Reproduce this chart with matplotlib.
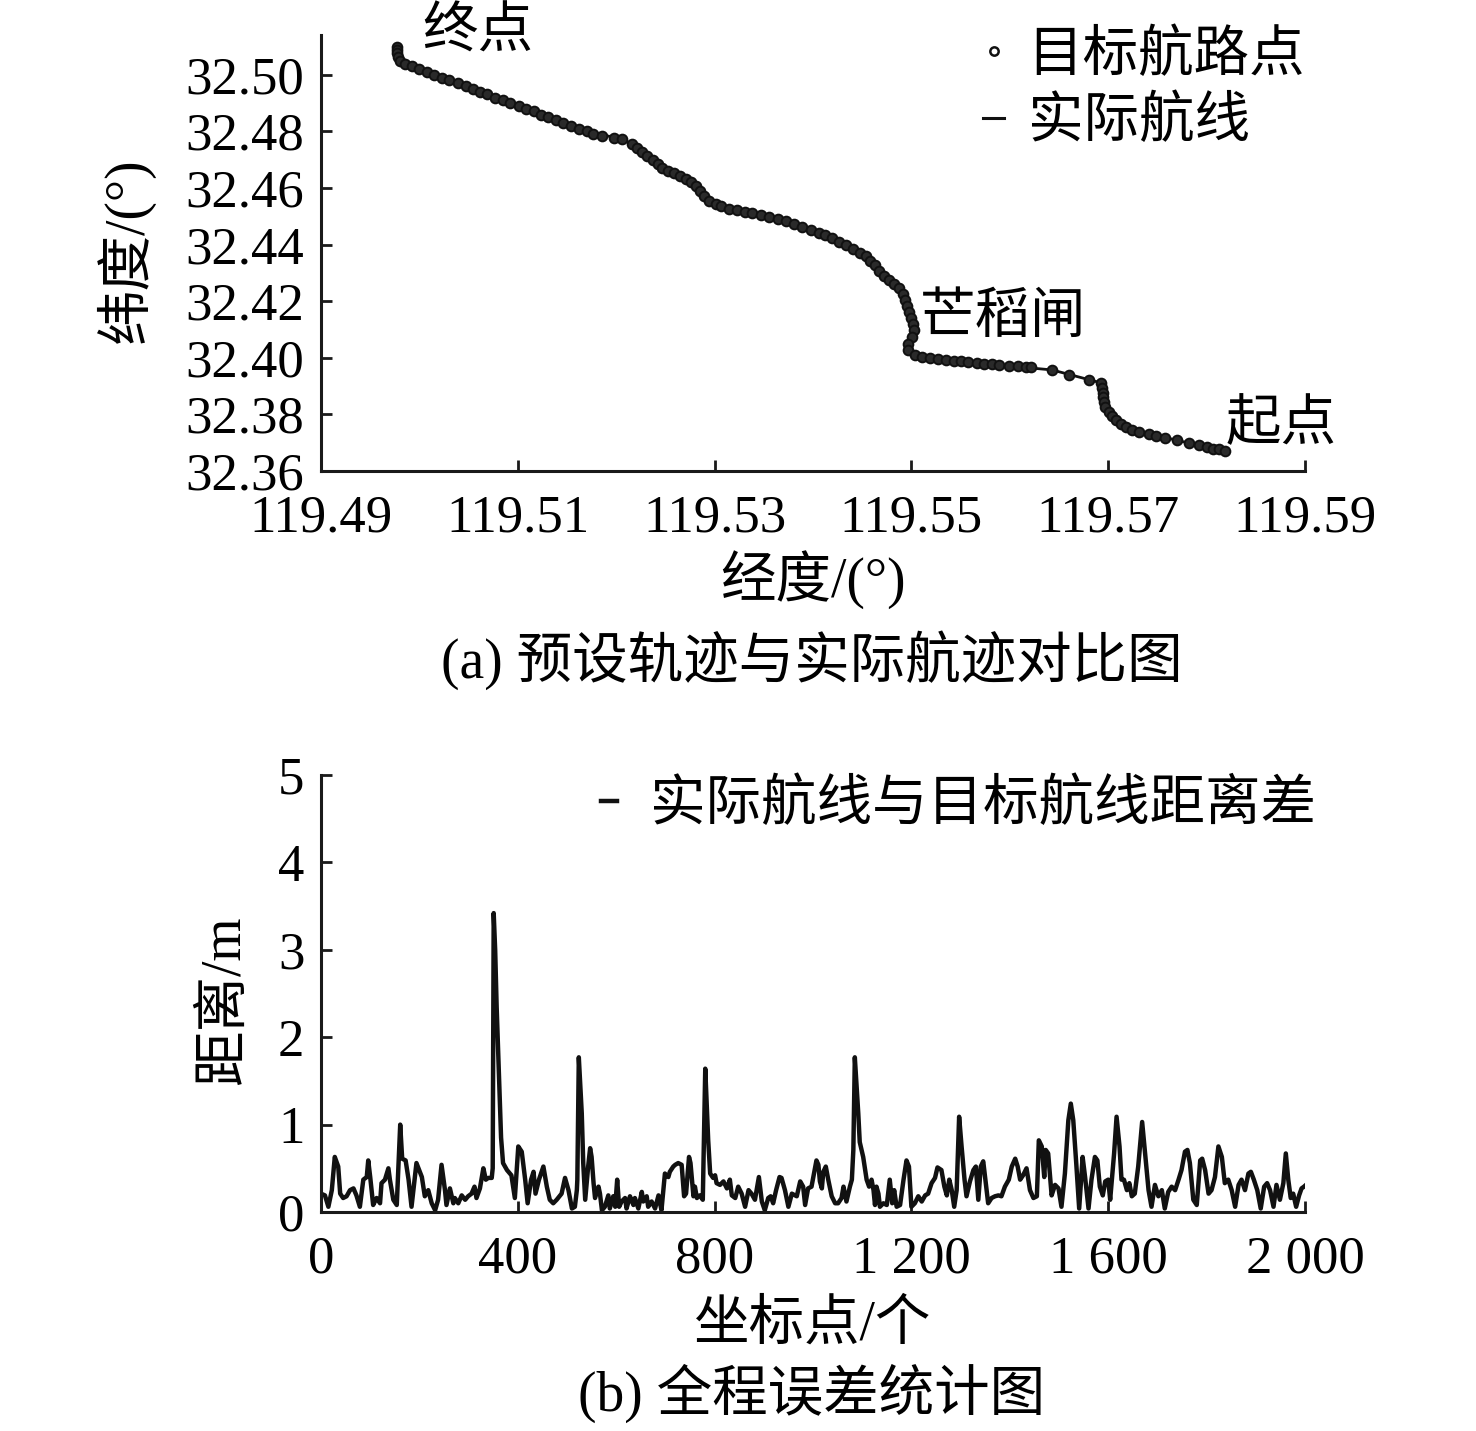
import matplotlib
matplotlib.use("Agg")
import matplotlib.pyplot as plt
from matplotlib.lines import Line2D

plt.rcParams['font.family'] = ['Liberation Serif', 'Noto Sans CJK SC']
plt.rcParams['axes.unicode_minus'] = False

FS = 38      # numbers
FS_CN = 40   # chinese text

# target waypoints (lon, lat)
wp_lon = [119.4977, 119.4977, 119.4977, 119.4978, 119.4980, 119.4985,
          119.4992, 119.5000, 119.5008, 119.5015, 119.5023, 119.5030, 119.5039, 119.5047,
          119.5054, 119.5062, 119.5069, 119.5077, 119.5085, 119.5092, 119.5101, 119.5108,
          119.5116, 119.5124, 119.5131, 119.5139, 119.5146, 119.5154, 119.5162, 119.5170,
          119.5176, 119.5186, 119.5198, 119.5206, 119.5216, 119.5221, 119.5226, 119.5231,
          119.5237, 119.5242, 119.5247, 119.5253, 119.5259, 119.5265, 119.5271, 119.5276,
          119.5281, 119.5285, 119.5289, 119.5294, 119.5301, 119.5307, 119.5315, 119.5323,
          119.5331, 119.5338, 119.5347, 119.5355, 119.5364, 119.5373, 119.5381, 119.5389,
          119.5398, 119.5406, 119.5412, 119.5419, 119.5426, 119.5434, 119.5441, 119.5448,
          119.5454, 119.5458, 119.5463, 119.5467, 119.5472, 119.5477, 119.5482, 119.5487,
          119.5491, 119.5494, 119.5496, 119.5498, 119.5500, 119.5502, 119.5503, 119.5501,
          119.5497, 119.5497, 119.5504, 119.5511, 119.5519, 119.5527, 119.5535, 119.5543,
          119.5550, 119.5558, 119.5567, 119.5574, 119.5582, 119.5589, 119.5599, 119.5608,
          119.5616, 119.5622, 119.5643, 119.5660, 119.5680, 119.5693, 119.5694, 119.5695,
          119.5695, 119.5696, 119.5697, 119.5701, 119.5704, 119.5708, 119.5713, 119.5718,
          119.5724, 119.5731, 119.5741, 119.5749, 119.5758, 119.5770, 119.5782, 119.5792,
          119.5800, 119.5807, 119.5813, 119.5819]
wp_lat = [32.5099, 32.5088, 32.5078, 32.5063, 32.5049, 32.5039,
          32.5030, 32.5019, 32.5009, 32.4999, 32.4989, 32.4980, 32.4969, 32.4959,
          32.4950, 32.4939, 32.4930, 32.4919, 32.4909, 32.4900, 32.4889, 32.4880,
          32.4870, 32.4859, 32.4850, 32.4839, 32.4830, 32.4820, 32.4809, 32.4800,
          32.4789, 32.4782, 32.4775, 32.4772, 32.4754, 32.4740, 32.4726, 32.4712,
          32.4698, 32.4684, 32.4670, 32.4659, 32.4652, 32.4642, 32.4631, 32.4621,
          32.4607, 32.4589, 32.4572, 32.4554, 32.4543, 32.4536, 32.4526, 32.4522,
          32.4515, 32.4512, 32.4505, 32.4498, 32.4491, 32.4484, 32.4473, 32.4463,
          32.4452, 32.4442, 32.4435, 32.4424, 32.4410, 32.4399, 32.4385, 32.4371,
          32.4361, 32.4343, 32.4326, 32.4308, 32.4290, 32.4276, 32.4259, 32.4245,
          32.4224, 32.4203, 32.4182, 32.4160, 32.4139, 32.4118, 32.4097, 32.4073,
          32.4048, 32.4027, 32.4009, 32.4002, 32.3999, 32.3995, 32.3992, 32.3988,
          32.3988, 32.3985, 32.3981, 32.3978, 32.3978, 32.3974, 32.3971, 32.3971,
          32.3967, 32.3967, 32.3957, 32.3939, 32.3922, 32.3911, 32.3893, 32.3876,
          32.3862, 32.3844, 32.3827, 32.3809, 32.3795, 32.3781, 32.3767, 32.3756,
          32.3746, 32.3739, 32.3732, 32.3725, 32.3718, 32.3711, 32.3700, 32.3693,
          32.3686, 32.3679, 32.3676, 32.3669]

# actual route
route_lon = [119.4977, 119.4978, 119.4985, 119.5170, 119.5206, 119.5216, 119.5247, 119.5271,
             119.5281, 119.5294, 119.5315, 119.5338, 119.5373, 119.5406, 119.5454, 119.5467,
             119.5487, 119.5494, 119.5503, 119.5497, 119.5511, 119.5589, 119.5643, 119.5693,
             119.5697, 119.5708, 119.5724, 119.5758, 119.5819]
route_lat = [32.5099, 32.5053, 32.5039, 32.4800, 32.4772, 32.4754, 32.4670, 32.4631,
             32.4607, 32.4554, 32.4526, 32.4512, 32.4484, 32.4442, 32.4361, 32.4308,
             32.4245, 32.4203, 32.4097, 32.4027, 32.4002, 32.3974, 32.3957, 32.3911,
             32.3827, 32.3781, 32.3746, 32.3718, 32.3669]

place_names = ['终点', '芒稻闸', '起点']
place_lon = [119.5059, 119.5509, 119.5819]
place_lat = [32.5145, 32.4136, 32.3760]

# distance error along the whole trip
err_idx = [0, 8, 15, 22, 28, 35, 39, 45, 52, 59, 66, 72, 79, 86, 93, 96, 100, 106, 113, 120,
           123, 130, 137, 140, 147, 154, 161, 165, 172, 178, 184, 194, 205, 211, 218, 225,
           232, 238, 245, 252, 255, 262, 269, 272, 279, 286, 293, 299, 306, 312, 316, 323,
           330, 335, 340, 347, 349, 351, 354, 357, 362, 366, 370, 378, 387, 394, 401, 408,
           415, 420, 427, 432, 436, 443, 452, 459, 465, 472, 479, 489, 496, 503, 510, 516,
           520, 521, 524, 530, 533, 537, 543, 547, 550, 554, 557, 564, 567, 571, 577, 584,
           587, 594, 598, 602, 606, 611, 618, 621, 628, 635, 638, 645, 652, 655, 662, 665,
           672, 679, 686, 692, 699, 706, 709, 716, 720, 726, 733, 738, 742, 748, 751, 757,
           760, 764, 770, 776, 781, 787, 791, 797, 801, 804, 811, 818, 825, 831, 835, 842,
           848, 855, 862, 869, 875, 882, 890, 896, 902, 909, 914, 919, 925, 932, 936, 943,
           950, 957, 967, 974, 980, 984, 990, 997, 1004, 1007, 1011, 1014, 1018, 1021, 1026,
           1031, 1038, 1045, 1051, 1058, 1062, 1068, 1075, 1079, 1082, 1085, 1092, 1095,
           1102, 1109, 1114, 1119, 1123, 1126, 1129, 1133, 1136, 1143, 1150, 1156, 1161,
           1165, 1170, 1177, 1184, 1190, 1195, 1200, 1207, 1214, 1221, 1228, 1234, 1241,
           1248, 1253, 1261, 1267, 1272, 1277, 1282, 1287, 1292, 1297, 1302, 1308, 1312,
           1319, 1326, 1331, 1336, 1341, 1346, 1352, 1356, 1363, 1370, 1377, 1383, 1390,
           1398, 1404, 1411, 1416, 1421, 1427, 1434, 1441, 1448, 1455, 1459, 1465, 1470,
           1473, 1478, 1485, 1492, 1499, 1505, 1512, 1519, 1524, 1529, 1535, 1541, 1548,
           1553, 1560, 1566, 1573, 1578, 1583, 1589, 1594, 1600, 1604, 1612, 1617, 1623,
           1627, 1632, 1638, 1643, 1648, 1654, 1661, 1669, 1675, 1682, 1688, 1695, 1702,
           1709, 1715, 1722, 1729, 1736, 1743, 1749, 1756, 1761, 1766, 1773, 1780, 1787,
           1791, 1797, 1804, 1810, 1817, 1824, 1831, 1837, 1844, 1851, 1858, 1865, 1871,
           1878, 1885, 1890, 1896, 1903, 1910, 1917, 1923, 1929, 1936, 1942, 1949, 1956,
           1961, 1966, 1971, 1976, 1982, 1988, 1993, 1998, 2000]
err_val = [0.21, 0.19, 0.06, 0.25, 0.63, 0.52, 0.21, 0.16, 0.18, 0.25, 0.27, 0.19, 0.06, 0.37,
           0.40, 0.59, 0.40, 0.08, 0.16, 0.10, 0.33, 0.37, 0.50, 0.37, 0.14, 0.08, 1.00, 0.61,
           0.59, 0.37, 0.06, 0.56, 0.40, 0.18, 0.25, 0.10, 0.02, 0.14, 0.54, 0.25, 0.08, 0.27,
           0.10, 0.16, 0.10, 0.19, 0.14, 0.18, 0.21, 0.29, 0.16, 0.27, 0.50, 0.37, 0.39, 0.39,
           0.50, 3.42, 3.00, 2.35, 1.50, 0.85, 0.56, 0.48, 0.42, 0.16, 0.75, 0.69, 0.37, 0.10,
           0.37, 0.46, 0.21, 0.37, 0.52, 0.29, 0.14, 0.10, 0.14, 0.21, 0.39, 0.25, 0.04, 0.06,
           0.25, 0.37, 1.77, 1.13, 0.56, 0.14, 0.52, 0.73, 0.63, 0.33, 0.16, 0.29, 0.21, 0.02,
           0.06, 0.19, 0.04, 0.18, 0.06, 0.37, 0.06, 0.12, 0.16, 0.04, 0.18, 0.08, 0.16, 0.04,
           0.23, 0.12, 0.18, 0.06, 0.12, 0.04, 0.19, 0.02, 0.44, 0.40, 0.46, 0.52, 0.54, 0.56,
           0.54, 0.18, 0.21, 0.63, 0.56, 0.18, 0.29, 0.16, 0.19, 0.14, 1.64, 0.82, 0.44, 0.39,
           0.42, 0.33, 0.31, 0.35, 0.27, 0.37, 0.19, 0.16, 0.29, 0.21, 0.06, 0.25, 0.21, 0.14,
           0.40, 0.12, 0.02, 0.16, 0.18, 0.10, 0.25, 0.40, 0.39, 0.25, 0.06, 0.21, 0.18, 0.35,
           0.29, 0.08, 0.27, 0.29, 0.50, 0.59, 0.54, 0.35, 0.27, 0.46, 0.52, 0.37, 0.18, 0.10,
           0.10, 0.16, 0.29, 0.12, 0.29, 0.37, 0.71, 1.77, 1.13, 0.80, 0.63, 0.37, 0.29, 0.37,
           0.25, 0.08, 0.29, 0.21, 0.06, 0.10, 0.08, 0.37, 0.10, 0.25, 0.06, 0.08, 0.37, 0.59,
           0.52, 0.06, 0.10, 0.18, 0.12, 0.19, 0.21, 0.33, 0.39, 0.51, 0.48, 0.29, 0.19, 0.37,
           0.25, 0.06, 0.25, 1.09, 0.75, 0.37, 0.18, 0.35, 0.48, 0.52, 0.14, 0.52, 0.58, 0.29,
           0.10, 0.16, 0.18, 0.19, 0.18, 0.29, 0.37, 0.52, 0.61, 0.52, 0.37, 0.42, 0.50, 0.25,
           0.16, 0.18, 0.82, 0.75, 0.40, 0.71, 0.67, 0.19, 0.31, 0.27, 0.06, 0.44, 1.05, 1.24,
           1.05, 0.56, 0.04, 0.63, 0.40, 0.04, 0.37, 0.63, 0.59, 0.29, 0.19, 0.35, 0.37, 0.14,
           0.67, 1.09, 0.75, 0.37, 0.37, 0.25, 0.33, 0.18, 0.21, 0.52, 1.03, 0.67, 0.25, 0.06,
           0.31, 0.18, 0.25, 0.04, 0.23, 0.29, 0.25, 0.37, 0.48, 0.69, 0.71, 0.56, 0.14, 0.08,
           0.59, 0.61, 0.48, 0.21, 0.25, 0.40, 0.75, 0.63, 0.33, 0.37, 0.25, 0.06, 0.31, 0.37,
           0.25, 0.44, 0.46, 0.37, 0.25, 0.04, 0.29, 0.33, 0.25, 0.06, 0.31, 0.14, 0.33, 0.67,
           0.37, 0.16, 0.21, 0.06, 0.19, 0.27, 0.29, 0.30]

lon_ticks = [119.49, 119.51, 119.53, 119.55, 119.57, 119.59]
lat_ticks = [32.36, 32.38, 32.40, 32.42, 32.44, 32.46, 32.48, 32.50]
idx_ticks = [0, 400, 800, 1200, 1600, 2000]
idx_labels = ['0', '400', '800', '1 200', '1 600', '2 000']
err_ticks = [0, 1, 2, 3, 4, 5]

fig = plt.figure(figsize=(14.76, 14.31), dpi=100)
ax1 = fig.add_axes([321 / 1476, 1 - 471 / 1431, 984 / 1476, 436 / 1431])
ax2 = fig.add_axes([321 / 1476, 1 - 1212 / 1431, 984 / 1476, 437 / 1431])

for ax in (ax1, ax2):
    for s in ('top', 'right'):
        ax.spines[s].set_visible(False)
    for s in ('left', 'bottom'):
        ax.spines[s].set_linewidth(2.2)
        ax.spines[s].set_color('#1a1a1a')
    ax.tick_params(direction='in', length=8, width=2, labelsize=FS, color='#1a1a1a')
    ax.tick_params(axis='y', pad=12)
    ax.tick_params(axis='x', pad=17)

# (a) track
ax1.plot(route_lon, route_lat, color='#111111', lw=2.0, solid_joinstyle='round', zorder=2)
ax1.plot(wp_lon, wp_lat, ls='none', marker='o', ms=7, mfc='#2a2a2a', mec='#111111',
         mew=1.4, zorder=3)
ax1.set_xlim(119.49, 119.59)
ax1.set_ylim(32.36, 32.514)
ax1.set_xticks(lon_ticks)
ax1.set_xticklabels(['%.2f' % v for v in lon_ticks])
ax1.set_yticks(lat_ticks)
ax1.set_yticklabels(['%.2f' % v for v in lat_ticks])
ax1.set_xlabel('经度/(°)', fontsize=FS_CN)
ax1.xaxis.label.set_va('center')
ax1.xaxis.set_label_coords(0.5, -0.25)
ax1.set_ylabel('纬度/(°)', fontsize=FS_CN)
ax1.yaxis.label.set_va('center')
ax1.yaxis.set_label_coords(-0.199, 0.507)
for name, x, y in zip(place_names, place_lon, place_lat):
    ha = 'center' if name == '终点' else 'left'
    ax1.text(x, y, name, fontsize=FS_CN, ha=ha, va='center', clip_on=False)

h1 = [Line2D([], [], ls='none', marker='o', ms=6, mfc='white', mec='#111111', mew=1.8),
      Line2D([], [], color='#111111', lw=2.2)]
ax1.legend(h1, ['目标航路点', '实际航线'], loc='upper left', bbox_to_anchor=(0.673, 1.011),
           frameon=False, fontsize=FS_CN, handlelength=0.38, handletextpad=0.42,
           borderpad=0, borderaxespad=0, labelspacing=0.25)

# (b) error
ax2.plot(err_idx, err_val, color='#111111', lw=3.2, solid_joinstyle='round',
         label='实际航线与目标航线距离差')
ax2.set_xlim(0, 2000)
ax2.set_ylim(0, 5)
ax2.set_xticks(idx_ticks)
ax2.set_xticklabels(idx_labels)
ax2.set_yticks(err_ticks)
ax2.set_xlabel('坐标点/个', fontsize=FS_CN)
ax2.xaxis.label.set_va('center')
ax2.xaxis.set_label_coords(0.5, -0.259)
ax2.set_ylabel('距离/m', fontsize=FS_CN)
ax2.yaxis.label.set_va('center')
ax2.yaxis.set_label_coords(-0.0976, 0.485)
ax2.legend(loc='upper left', bbox_to_anchor=(0.285, 0.99), frameon=False, fontsize=FS_CN,
           handlelength=0.28, handletextpad=0.6, borderpad=0, borderaxespad=0)

fig.text(812 / 1476, 1 - 660 / 1431, '(a) 预设轨迹与实际航迹对比图', fontsize=FS_CN,
         ha='center', va='center')
fig.text(812 / 1476, 1 - 1393 / 1431, '(b) 全程误差统计图', fontsize=FS_CN,
         ha='center', va='center')

fig.savefig('out.png', dpi=100, facecolor='white')
